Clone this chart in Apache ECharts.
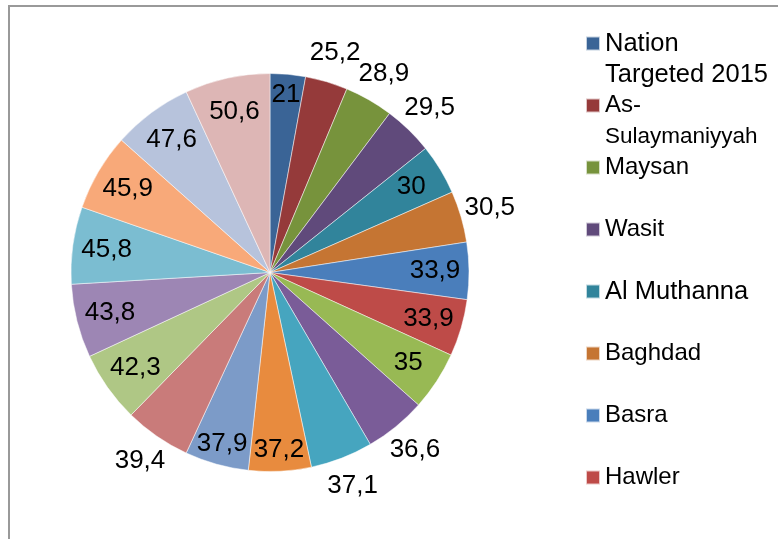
<!DOCTYPE html>
<html lang="en">
<head>
    <meta charset="UTF-8">
    <title>Pie</title>
    <script src="https://cdn.jsdelivr.net/npm/echarts/dist/echarts.min.js"></script>
    <style>
        html, body {
            margin: 0;
            padding: 0;
            background: #fff;
        }
        #chart {
            width: 778px;
            height: 539px;
        }
    </style>
</head>
<body>
<div id="chart"></div>
<script>
    // slice names (only the first 8 are visible in the legend)
    const names = [
        'Nation Targeted 2015', 'As-Sulaymaniyyah', 'Maysan', 'Wasit', 'Al Muthanna',
        'Baghdad', 'Basra', 'Hawler', 'Duhok', 'Kirkuk', 'Diyala', 'Babil',
        'Karbala', 'Najaf', 'Al-Qadisiyyah', 'Dhi Qar', 'Salah ad-Din', 'Anbar',
        'Ninewa', 'Iraq'
    ];
    const values = [
        21, 25.2, 28.9, 29.5, 30, 30.5, 33.9, 33.9, 35, 36.6,
        37.1, 37.2, 37.9, 39.4, 42.3, 43.8, 45.8, 45.9, 47.6, 50.6
    ];
    // where each value label sits: in / edge / out
    const labelPlace = [
        'edge', 'out', 'out', 'out', 'in', 'out', 'in', 'in', 'in', 'out',
        'out', 'edge', 'edge', 'out', 'in', 'in', 'in', 'in', 'in', 'in'
    ];
    const colors = [
        '#3A6496', '#953A3A', '#77933C', '#604A7B', '#31849B', '#C57533',
        '#4A7EBB', '#BE4B48', '#98B954', '#7A5C98', '#46A5BF', '#E88B3E',
        '#7C9BC8', '#C97B7A', '#AFC785', '#9D86B4', '#7BBDD1', '#F8A979',
        '#B7C3DC', '#DDB6B5'
    ];
    // legend text split as in the original
    const legendText = {
        'Nation Targeted 2015': '{big|Nation}\n{big|Targeted 2015}',
        'As-Sulaymaniyyah': 'As-\n{small|Sulaymaniyyah}',
        'Al Muthanna': '{big|Al Muthanna}'
    };

    const FONT = '"Liberation Sans", Arial, sans-serif';
    const center = [270, 272.5];
    const R = 199;
    const placeRadius = { in: 165, edge: 178, out: 229 };

    // labels go on a polar grid laid over the pie: angle = middle of each slice
    const total = values.reduce((a, b) => a + b, 0);
    let run = 0;
    const labelPoints = values.map((v, i) => {
        const mid = run + v / 2;
        run += v;
        return { value: [placeRadius[labelPlace[i]], mid], raw: v };
    });

    // a blank line above and below keeps the marker on the first text line
    function legendLabel(n) {
        const t = legendText[n] || n;
        const lines = t.split('\n').length;
        return ' \n' + t + (lines === 1 ? '\n ' : '');
    }

    const chart = echarts.init(document.getElementById('chart'));
    chart.setOption({
        animation: false,
        color: colors,
        graphic: [{
            type: 'rect',
            silent: true,
            shape: { x: 9, y: 6, width: 1000, height: 1000 },
            style: { fill: 'none', stroke: '#999', lineWidth: 2 }
        }],
        legend: {
            orient: 'vertical',
            left: 585,
            top: -3,
            padding: 0,
            itemGap: -31,
            itemWidth: 14,
            itemHeight: 14,
            icon: 'rect',
            selectedMode: false,
            data: names.slice(0, 8),
            formatter: legendLabel,
            textStyle: {
                fontSize: 24,
                lineHeight: 31,
                fontFamily: FONT,
                color: '#000',
                rich: {
                    big: { fontSize: 25.5, lineHeight: 31, fontFamily: FONT },
                    small: { fontSize: 22.5, lineHeight: 31, fontFamily: FONT }
                }
            }
        },
        polar: { center: center, radius: R },
        angleAxis: {
            type: 'value', min: 0, max: total,
            startAngle: 90, clockwise: true, show: false
        },
        radiusAxis: { type: 'value', min: 0, max: R, show: false },
        series: [
            {
                type: 'pie',
                center: center,
                radius: [0, R],
                startAngle: 90,
                clockwise: true,
                silent: true,
                label: { show: false },
                labelLine: { show: false },
                itemStyle: { borderColor: 'rgba(255,255,255,0.7)', borderWidth: 0.7 },
                data: values.map((v, i) => ({ name: names[i], value: v }))
            },
            {
                type: 'scatter',
                coordinateSystem: 'polar',
                silent: true,
                clip: false,
                symbolSize: 0,
                itemStyle: { color: 'transparent', opacity: 1 },
                z: 5,
                data: labelPoints,
                label: {
                    show: true,
                    position: 'inside',
                    formatter: p => String(p.data.raw).replace('.', ','),
                    color: '#000',
                    textBorderWidth: 0,
                    fontSize: 26,
                    fontFamily: FONT
                }
            }
        ]
    });
</script>
</body>
</html>
